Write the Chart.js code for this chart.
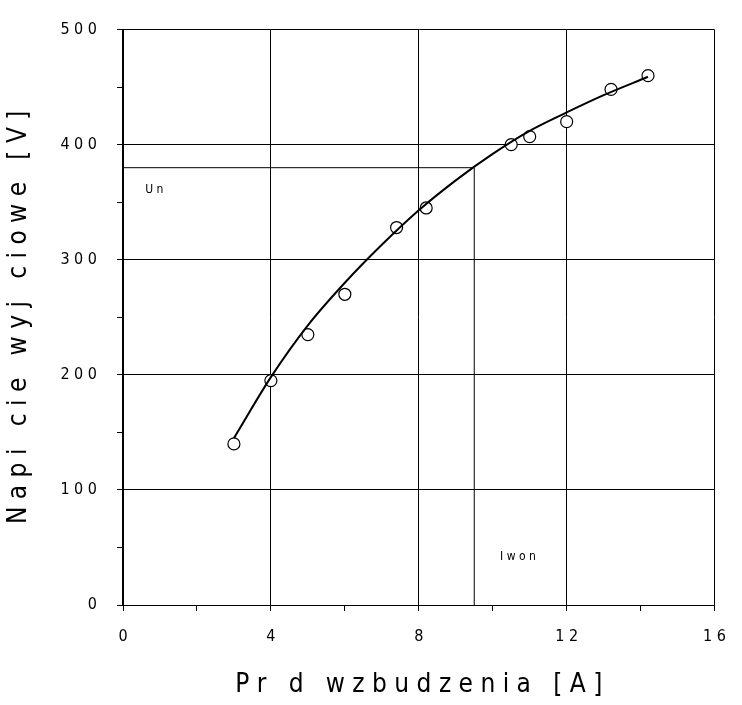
<!DOCTYPE html>
<html>
<head>
<meta charset="utf-8">
<script src="https://cdn.jsdelivr.net/npm/chart.js@4/dist/chart.umd.min.js"></script>
<style>
  body { margin: 0; background: #fff; }
  #wrap { width: 742px; height: 705px; }
</style>
</head>
<body>
<div id="wrap"><canvas id="c"></canvas></div>
<script>
// Measured points
const currentA = [3, 4, 5, 6, 7.4, 8.2, 10.5, 11, 12, 13.2, 14.2];
const voltageV = [140, 195, 235, 270, 328, 345, 400, 407, 420, 448, 460];

// Fitted curve
const fitX = [3, 4, 5, 6, 7, 8, 9, 10, 11, 12, 13, 14.2];
const fitY = [145, 198, 243, 280, 313, 343, 369, 392, 412, 428, 443, 459];

// Rated point
const ratedV = 380;
const ratedI = 9.5;

const font = "'DejaVu Sans Condensed', 'Liberation Sans Narrow', sans-serif";

const guides = {
  id: "guides",
  afterDatasetsDraw(chart) {
    const { ctx, scales: { x, y } } = chart;
    ctx.save();
    ctx.strokeStyle = "#000";
    ctx.lineWidth = 1;
    ctx.beginPath();
    ctx.moveTo(x.getPixelForValue(0), y.getPixelForValue(ratedV));
    ctx.lineTo(x.getPixelForValue(ratedI), y.getPixelForValue(ratedV));
    ctx.moveTo(x.getPixelForValue(ratedI), y.getPixelForValue(ratedV));
    ctx.lineTo(x.getPixelForValue(ratedI), y.getPixelForValue(0));
    ctx.stroke();
    ctx.fillStyle = "#000";
    ctx.font = "12px " + font;
    ctx.textAlign = "left";
    ctx.textBaseline = "middle";
    ctx.fillText("U n", x.getPixelForValue(0.6), y.getPixelForValue(361));
    ctx.fillText("I w o n", x.getPixelForValue(10.2), y.getPixelForValue(42));
    ctx.lineWidth = 2;
    ctx.beginPath();
    ctx.moveTo(x.getPixelForValue(0), y.getPixelForValue(0));
    ctx.lineTo(x.getPixelForValue(0), y.getPixelForValue(500));
    ctx.stroke();
    ctx.restore();
  }
};

new Chart(document.getElementById("c"), {
  type: "scatter",
  data: {
    datasets: [
      {
        label: "fit",
        data: fitX.map((v, i) => ({ x: v, y: fitY[i] })),
        showLine: true,
        borderColor: "#000",
        borderWidth: 2,
        pointRadius: 0,
        cubicInterpolationMode: "monotone"
      },
      {
        label: "pomiar",
        data: currentA.map((v, i) => ({ x: v, y: voltageV[i] })),
        borderColor: "#000",
        backgroundColor: "#fff",
        borderWidth: 1.2,
        pointRadius: 6
      }
    ]
  },
  options: {
    responsive: true,
    maintainAspectRatio: false,
    animation: false,
    layout: { padding: { top: -16, right: -16, left: 0, bottom: 0 } },
    plugins: { legend: { display: false }, tooltip: { enabled: false } },
    scales: {
      x: {
        min: 0, max: 16,
        ticks: {
          stepSize: 2,
          color: "#000",
          font: { family: font, size: 16 },
          padding: 16,
          maxRotation: 0,
          callback: (v) => (v % 4 === 0 ? v.toString().split("").join(" ") : "")
        },
        grid: {
          color: (c) => (c.tick && c.tick.value % 4 === 0 ? "#000" : "rgba(0,0,0,0)"),
          tickColor: "#000",
          tickLength: 6
        },
        border: { color: "#000" },
        title: {
          display: true,
          text: "P r   d   w z b u d z e n i a   [ A ]",
          color: "#000",
          font: { family: font, size: 26 },
          padding: { top: 6 }
        },
        afterFit: (s) => { s.height = 100; }
      },
      y: {
        min: 0, max: 500,
        ticks: {
          stepSize: 50,
          color: "#000",
          font: { family: font, size: 16 },
          padding: 20,
          callback: (v) => (v % 100 === 0 ? v.toString().split("").join(" ") : "")
        },
        grid: {
          color: (c) => (c.tick && c.tick.value % 100 === 0 ? "#000" : "rgba(0,0,0,0)"),
          tickColor: "#000",
          tickLength: 6
        },
        border: { color: "#000" },
        title: {
          display: true,
          text: "N a p i   c i e   w y j   c i o w e   [ V ]",
          color: "#000",
          font: { family: font, size: 26 },
          padding: { bottom: 12 }
        },
        afterFit: (s) => { s.width = 123; }
      }
    }
  },
  plugins: [guides]
});
</script>
</body>
</html>
